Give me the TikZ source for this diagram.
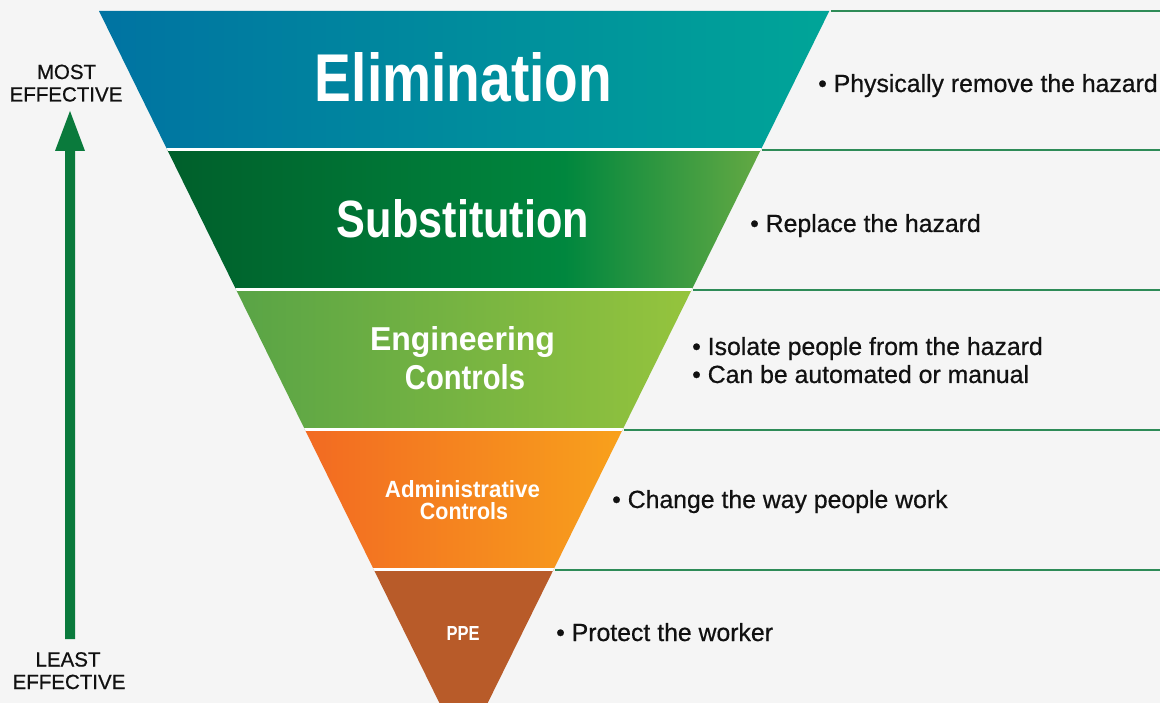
\documentclass[tikz,border=0pt]{standalone}
\usepackage{fontspec}
\setmainfont{Liberation Sans}
\newfontfamily\medfont[FakeBold=0.6]{Liberation Sans}
\usepackage{graphicx}
\definecolor{bg}{HTML}{F5F5F5}
\definecolor{bAl}{HTML}{0073A2}
\definecolor{bAr}{HTML}{00A598}
\definecolor{bBl}{HTML}{005F2B}
\definecolor{bBm}{HTML}{00873E}
\definecolor{bBr}{HTML}{64A943}
\definecolor{bCl}{HTML}{59A446}
\definecolor{bCr}{HTML}{95C43D}
\definecolor{bDl}{HTML}{F26A22}
\definecolor{bDr}{HTML}{F8A11C}
\definecolor{bE}{HTML}{B85B29}
\definecolor{gline}{HTML}{2E8B57}
\definecolor{arrowgreen}{HTML}{0A7A3C}
\definecolor{txt}{HTML}{111111}
\newcommand{\ttlbox}[3]{\resizebox{#1pt}{#2pt}{\bfseries #3}}
\tikzset{
  ttl/.style={anchor=base, inner sep=0pt, text=white},
  desc/.style={anchor=base west, inner sep=0pt, text=txt, font=\medfont\fontsize{24.8}{29}\selectfont},
  side/.style={anchor=base, inner sep=0pt, text=txt, font=\medfont\fontsize{20.5}{24}\selectfont},
  gl/.style={fill=gline},
  sep/.style={fill=white}
}
\begin{document}
\begin{tikzpicture}[x=1pt,y=-1pt]
\useasboundingbox[fill=bg] (0,0) rectangle (1160,703);
% green rules on the right
\fill[gl] (831,10.2) rectangle (1160,11.8);
\fill[gl] (762,149) rectangle (1160,150.6);
\fill[gl] (693,289) rectangle (1160,290.6);
\fill[gl] (624,429) rectangle (1160,430.6);
\fill[gl] (555,569) rectangle (1160,570.6);
% inverted triangle bands
\begin{scope}
\clip (99,11) -- (829.3,11) -- (463.5,752) -- cycle;
\shade[left color=bAl, right color=bAr] (99,11) rectangle (829.3,150);
\shade[left color=bBl, right color=bBm] (167,150) rectangle (565,290);
\shade[left color=bBm, right color=bBr] (565,150) rectangle (761,290);
\shade[left color=bCl, right color=bCr] (236,290) rectangle (692,430);
\shade[left color=bDl, right color=bDr] (305,430) rectangle (623,570);
\fill[bE] (360,570) rectangle (570,760);
\fill[sep] (0,148.4) rectangle (1160,150.6);
\fill[sep] (0,288.4) rectangle (1160,290.6);
\fill[sep] (0,428.4) rectangle (1160,430.6);
\fill[sep] (0,568.4) rectangle (1160,570.6);
\end{scope}
% titles
\node[ttl] (t1) at (463.5,102) {\ttlbox{297}{49}{Elimination}};
\node[ttl] (t2) at (463,238) {\ttlbox{252}{38}{Substitution}};
\node[ttl] (t3a) at (462.5,351) {\ttlbox{185}{24}{Engineering}};
\node[ttl] (t3b) at (465,390) {\ttlbox{120}{25}{Controls}};
\node[ttl] (t4a) at (462.5,497) {\ttlbox{155}{17}{Administrative}};
\node[ttl] (t4b) at (464,519) {\ttlbox{88}{17}{Controls}};
\node[ttl] (t5) at (463,640) {\ttlbox{33}{14}{PPE}};
% descriptions
\node[desc] (d1) at (818,92) {• Physically remove the hazard};
\node[desc] (d2) at (750,232) {• Replace the hazard};
\node[desc] (d3a) at (692,355) {• Isolate people from the hazard};
\node[desc] (d3b) at (692,383) {• Can be automated or manual};
\node[desc] (d4) at (612,508) {• Change the way people work};
\node[desc] (d5) at (556,641) {• Protect the worker};
% effectiveness arrow
\fill[arrowgreen] (65,639) -- (65,151) -- (55,151) -- (70,111) -- (85,151) -- (75,151) -- (75,639) -- cycle;
\node[side] (m1) at (66.5,79) {MOST};
\node[side] (m2) at (66,101.5) {EFFECTIVE};
\node[side] (l1) at (68,666.5) {LEAST};
\node[side] (l2) at (69,689) {EFFECTIVE};
\end{tikzpicture}
\end{document}
